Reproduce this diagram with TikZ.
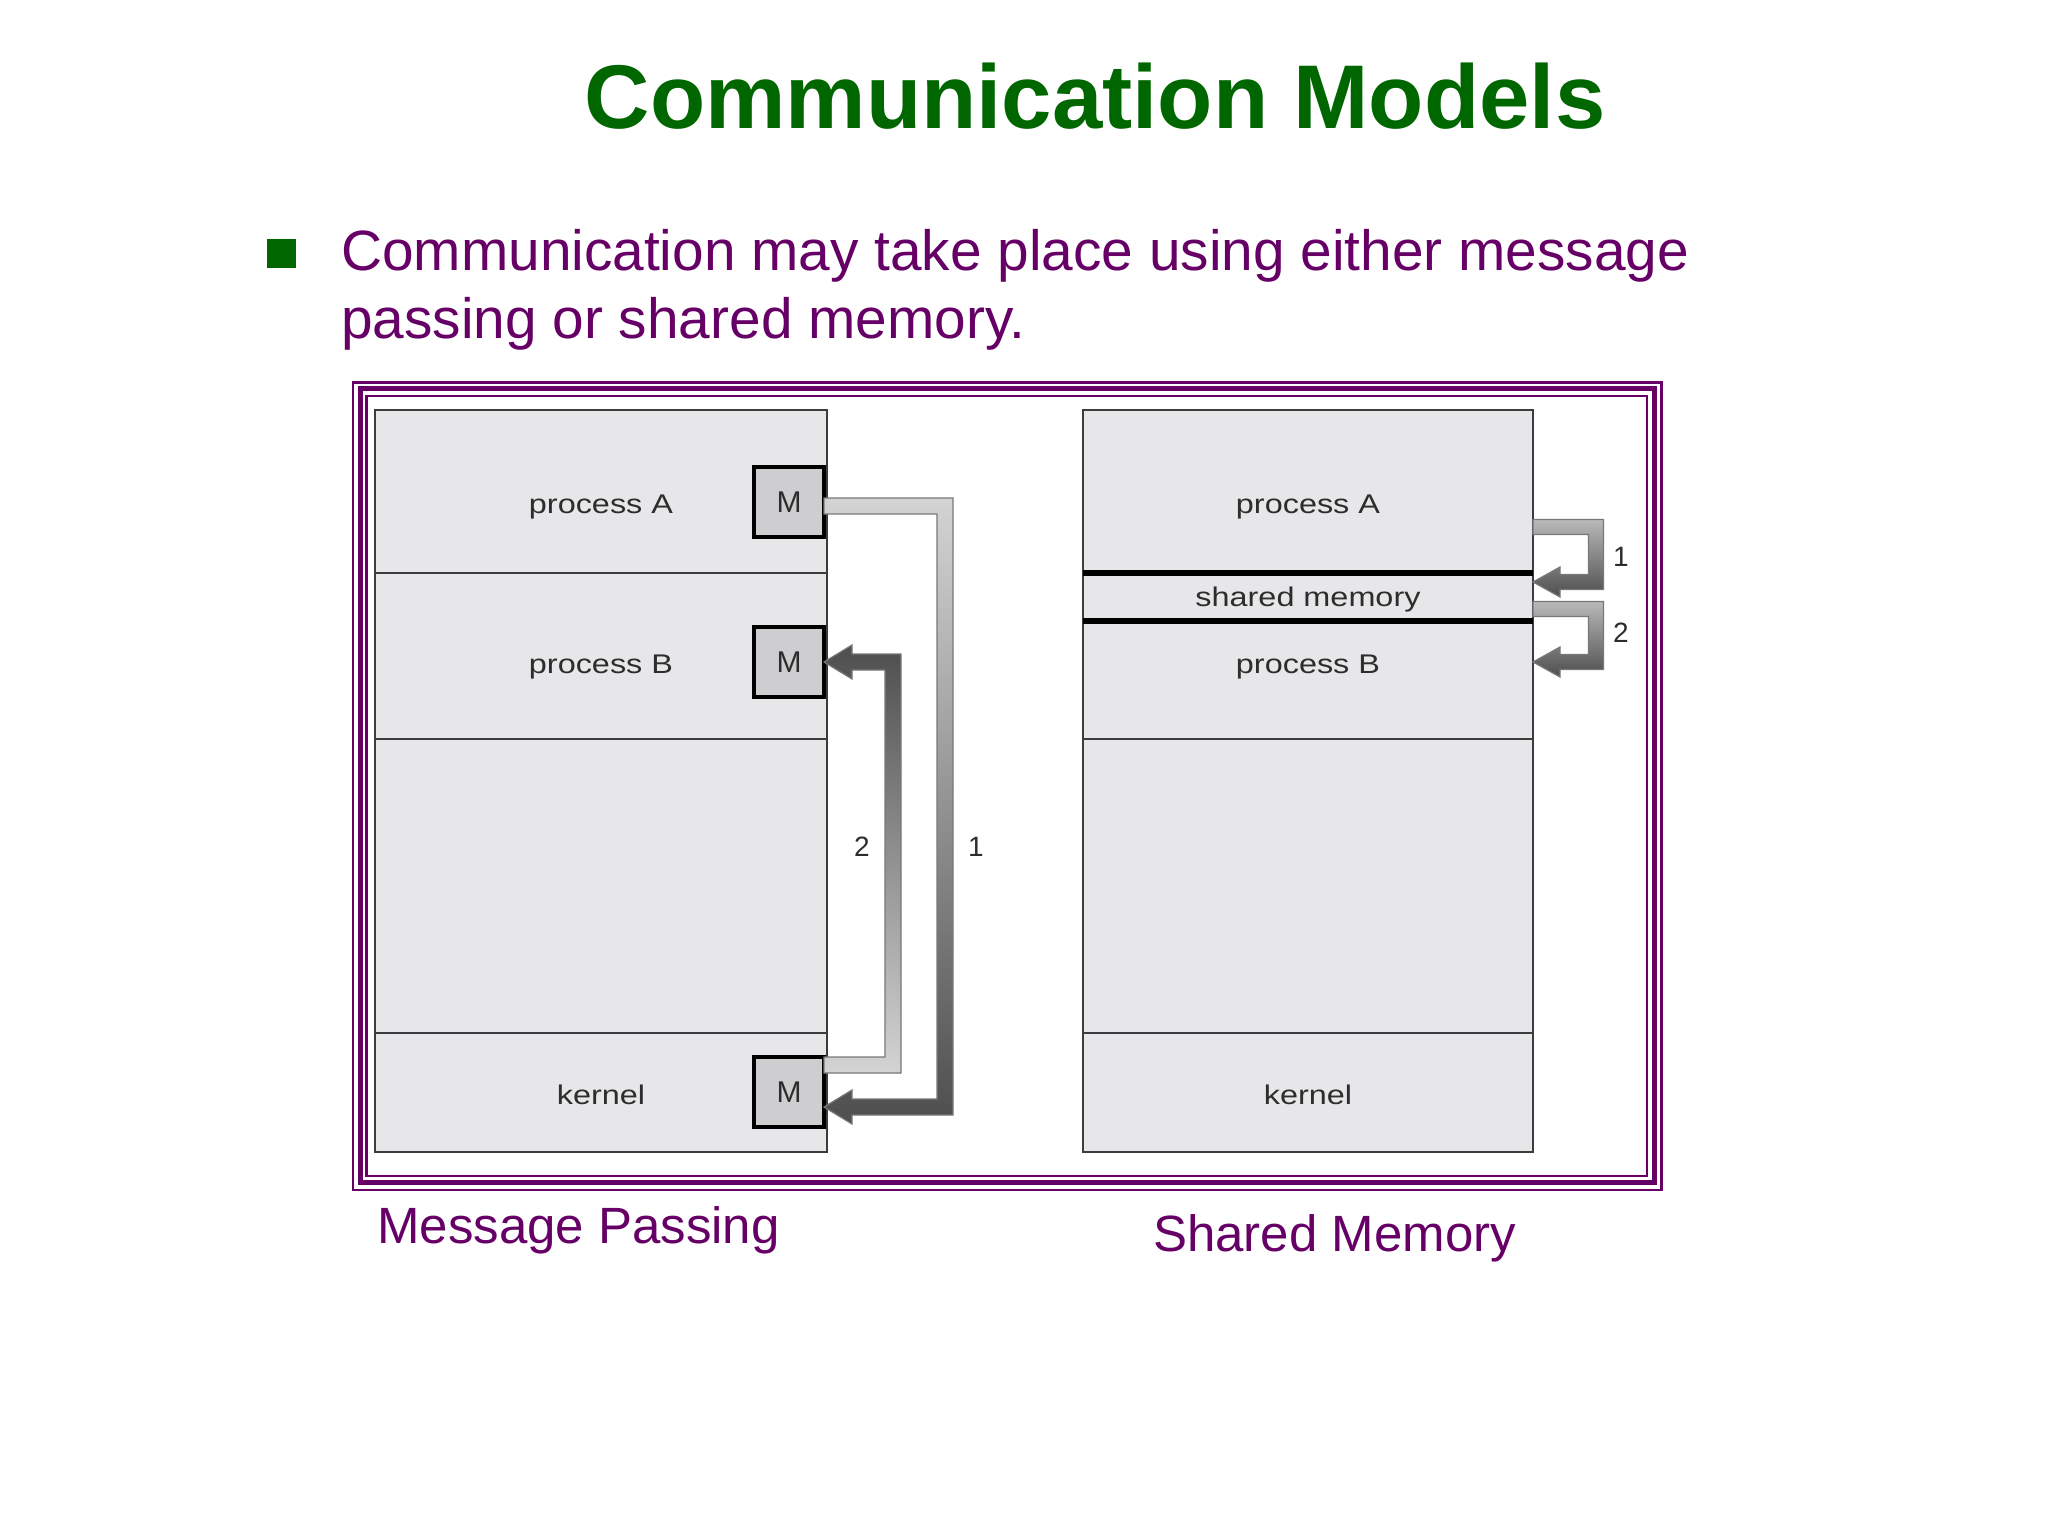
\documentclass[tikz,border=0pt]{standalone}
\usepackage{fontspec}
\setmainfont{Liberation Sans}
\newfontfamily\diagfont[FakeStretch=1.2]{Liberation Sans}
\usetikzlibrary{calc}
\definecolor{titlegreen}{RGB}{0,102,0}
\definecolor{purp}{RGB}{102,0,102}
\definecolor{boxfill}{RGB}{231,231,233}
\definecolor{mfill}{RGB}{206,206,208}
\definecolor{boxline}{RGB}{60,60,60}
\definecolor{txtgray}{RGB}{45,45,45}
\definecolor{arrlight}{RGB}{212,212,212}
\definecolor{arrmid}{RGB}{185,185,185}
\definecolor{arrdark}{RGB}{78,78,78}
\definecolor{arrline}{RGB}{120,120,120}

% gradient band arrow: start, end, turning coordinate, sign (1: down, -1: up), top colour, bottom colour, half width, head length, head half height
\newcommand\garrow[9]{%
 \shade[top color=#5, bottom color=#6, draw=arrline, line width=1.2pt, line join=miter]
  let \p1=(#1), \p2=(#2), \p3=(#3), \n1={#4} in
  (\x1,{\y1+\n1*#7}) -- ({\x3+#7},{\y1+\n1*#7}) -- ({\x3+#7},{\y2-\n1*#7})
  -- ({\x2+#8},{\y2-\n1*#7}) -- ({\x2+#8},{\y2-\n1*#9}) -- (\x2,\y2)
  -- ({\x2+#8},{\y2+\n1*#9}) -- ({\x2+#8},{\y2+\n1*#7}) -- ({\x3-#7},{\y2+\n1*#7})
  -- ({\x3-#7},{\y1-\n1*#7}) -- (\x1,{\y1-\n1*#7}) -- cycle;
}

\tikzset{
 sect/.style={draw=boxline, line width=2.8pt, fill=boxfill, inner sep=0pt, outer sep=0pt},
 lsect/.style={sect, minimum width=452pt},
 rsect/.style={sect, minimum width=450pt},
 mbox/.style={draw=black, line width=4.5pt, fill=mfill, minimum size=70pt, inner sep=0pt, outer sep=0pt,
   text=txtgray, font=\fontsize{30}{34}\selectfont},
 lbl/.style={anchor=base, text=txtgray, font=\diagfont\fontsize{27}{32}\selectfont, inner sep=0pt},
 num/.style={anchor=base, text=txtgray, font=\fontsize{28}{32}\selectfont, inner sep=0pt},
 caption/.style={anchor=base west, text=purp, font=\fontsize{51}{60}\selectfont, inner sep=0pt},
 frameline/.style={draw=purp}
}

\begin{document}
\begin{tikzpicture}[x=1pt, y=-1pt]
\useasboundingbox (0,0) rectangle (2048,1536);
\fill[white] (0,0) rectangle (2048,1536);

% title and bullet
\node[anchor=base, text=titlegreen, font=\fontsize{90.5}{100}\selectfont\bfseries, inner sep=0pt] (title) at (1095,129) {Communication Models};
\node[fill=titlegreen, minimum size=29pt, inner sep=0pt] (bullet) at (281.5,253) {};
\node[anchor=base west, text=purp, font=\fontsize{56.8}{68}\selectfont, inner sep=0pt] (line1) at (341,270) {Communication may take place using either message};
\node[anchor=base west, text=purp, font=\fontsize{56.8}{68}\selectfont, inner sep=0pt] (line2) at (341,338) {passing or shared memory.};

% frame
\draw[frameline, line width=2.5pt] (353,382.5) rectangle (1661.5,1190);
\draw[frameline, line width=5pt] (360,388.5) rectangle (1654,1182.5);
\draw[frameline, line width=2.5pt] (366.5,396) rectangle (1647,1176);

% left column (message passing)
\node[lsect, minimum height=163pt] (LA) at (601,491.5) {};
\node[lsect, minimum height=166pt] (LB) at (601,656) {};
\node[lsect, minimum height=294pt] (LF) at (601,886) {};
\node[lsect, minimum height=119pt] (LK) at (601,1092.5) {};
\node[lbl] (LAt) at (601,513) {process A};
\node[lbl] (LBt) at (601,673) {process B};
\node[lbl] (LKt) at (601,1104) {kernel};
\node[mbox] (MA) at (789,502) {M};
\node[mbox] (MB) at (789,662) {M};
\node[mbox] (MK) at (789,1092) {M};

% right column (shared memory)
\node[rsect, minimum height=163pt] (RA) at (1308,491.5) {};
\node[rsect, minimum height=48pt] (RS) at (1308,597) {};
\node[rsect, minimum height=118pt] (RB) at (1308,680) {};
\node[rsect, minimum height=294pt] (RF) at (1308,886) {};
\node[rsect, minimum height=119pt] (RK) at (1308,1092.5) {};
\draw[black, line width=6pt] (RS.north west) -- (RS.north east);
\draw[black, line width=6pt] (RS.south west) -- (RS.south east);
\node[lbl] (RAt) at (1308,513) {process A};
\node[lbl] (RSt) at (1308,606) {shared memory};
\node[lbl] (RBt) at (1308,673) {process B};
\node[lbl] (RKt) at (1308,1104) {kernel};

% turning coordinates
\coordinate (t1) at (945,0);
\coordinate (t2) at (893,0);
\coordinate (t3) at (1596,0);

% message passing arrows
\garrow{$(MA.east)+(0,4)$}{$(MK.east)+(0,15)$}{t1}{1}{arrlight}{arrdark}{8pt}{28pt}{17pt}
\garrow{$(MK.east)+(0,-27)$}{MB.east}{t2}{-1}{arrdark}{arrlight}{8pt}{28pt}{17pt}
\node[num] (n2) at (862,856) {2};
\node[num] (n1) at (976,856) {1};

% shared memory arrows
\garrow{$(RA.south east)+(0,-46)$}{$(RS.north east)+(0,9)$}{t3}{1}{arrmid}{arrdark}{7.5pt}{27pt}{15pt}
\garrow{$(RS.south east)+(0,-12)$}{$(RB.east)+(0,-18)$}{t3}{1}{arrmid}{arrdark}{7.5pt}{27pt}{15pt}
\node[num] (r1) at (1621,566) {1};
\node[num] (r2) at (1621,642) {2};

% captions
\node[caption] (cap1) at (377,1243) {Message Passing};
\node[caption] (cap2) at (1153,1251) {Shared Memory};
\end{tikzpicture}
\end{document}
